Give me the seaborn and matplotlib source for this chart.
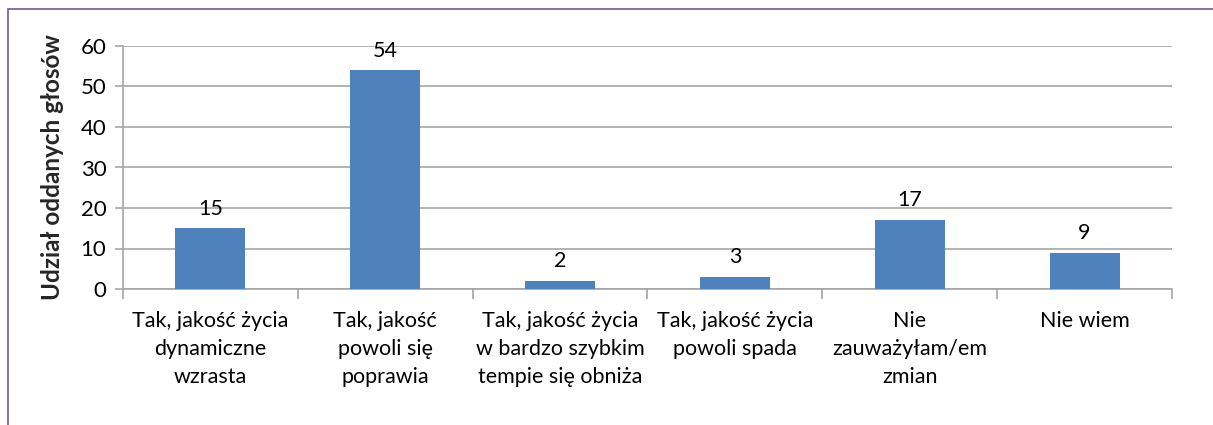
import matplotlib
matplotlib.use("Agg")
import matplotlib.pyplot as plt
import matplotlib.patches as patches
import seaborn as sns
import pandas as pd

categories = [
    "Tak, jakość życia\ndynamiczne\nwzrasta",
    "Tak, jakość\npowoli się\npoprawia",
    "Tak, jakość życia\nw bardzo szybkim\ntempie się obniża",
    "Tak, jakość życia\npowoli spada",
    "Nie\nzauważyłam/em\nzmian",
    "Nie wiem",
]
votes = [15, 54, 2, 3, 17, 9]
y_ticks = [0, 10, 20, 30, 40, 50, 60]

df = pd.DataFrame({"kategoria": categories, "glosy": votes})

sns.set_theme(style="white")
plt.rcParams["font.family"] = ["Lato", "DejaVu Sans"]

fig = plt.figure(figsize=(12.13, 4.25), dpi=100)
ax = fig.add_axes([123 / 1213, 136 / 425, 1049 / 1213, 243 / 425])

sns.barplot(data=df, x="kategoria", y="glosy", color="#4F81BD", width=0.4,
            saturation=1, linewidth=0, ax=ax, zorder=3)

ax.set_xlim(-0.5, len(categories) - 0.5)
ax.set_ylim(0, 60)
ax.set_yticks(y_ticks)
ax.grid(axis="y", color="#A6A6A6", linewidth=1.2, zorder=0)
ax.set_axisbelow(True)

for s in ["top", "right"]:
    ax.spines[s].set_visible(False)
for s in ["left", "bottom"]:
    ax.spines[s].set_color("#A6A6A6")
    ax.spines[s].set_linewidth(1.2)

# category boundaries as minor ticks
ax.set_xticks([i - 0.5 for i in range(len(categories) + 1)], minor=True)
ax.tick_params(axis="x", which="minor", length=7, color="#A6A6A6", width=1.2, bottom=True)
ax.tick_params(axis="x", which="major", length=0, pad=16, labelsize=15.5, colors="black")
ax.tick_params(axis="y", which="major", length=6, color="#A6A6A6", width=1.2, left=True,
               pad=6, labelsize=16, colors="black")
for lab in ax.get_xticklabels():
    lab.set_linespacing(1.5)

ax.set_xlabel("")
ax.set_ylabel("Udział oddanych głosów", fontsize=17.5, fontweight="bold", labelpad=12)

for i, v in enumerate(votes):
    ax.annotate(str(v), (i, v), xytext=(0, 7), textcoords="offset points",
                ha="center", va="bottom", fontsize=15.5, color="black")

# outer frame
frame = patches.Rectangle((8 / 1213, -0.1), 1.2, 1 - 9 / 425 + 0.1,
                          transform=fig.transFigure, fill=False,
                          edgecolor="#6F5B8E", linewidth=1.2)
fig.patches.append(frame)

fig.savefig("out.png", dpi=100)
